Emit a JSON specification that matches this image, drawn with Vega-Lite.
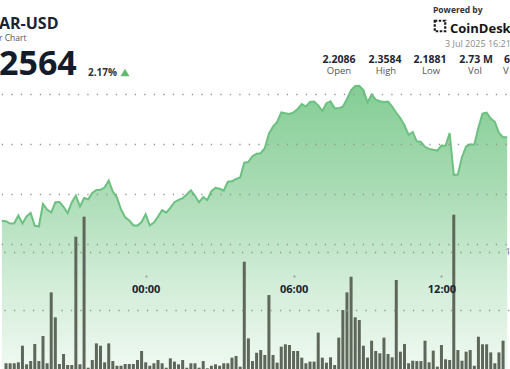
{
  "$schema": "https://vega.github.io/schema/vega-lite/v6.json",
  "width": 510,
  "height": 369,
  "padding": 0,
  "autosize": {"type": "none"},
  "background": "#ffffff",
  "config": {"view": {"stroke": null}, "font": "Open Sans", "text": {"font": "Open Sans"}},
  "datasets": {
    "d": [
      {"t": "2025-07-02T18:10:00Z", "p": 2.2230},
      {"t": "2025-07-02T18:20:00Z", "p": 2.2228, "v": 0.049},
      {"t": "2025-07-02T18:30:00Z", "p": 2.2205, "v": 0.049},
      {"t": "2025-07-02T18:40:00Z", "p": 2.2207, "v": 0.049},
      {"t": "2025-07-02T18:50:00Z", "p": 2.2285, "v": 0.057},
      {"t": "2025-07-02T19:00:00Z", "p": 2.2205, "v": 0.199},
      {"t": "2025-07-02T19:10:00Z", "p": 2.2275, "v": 0.040},
      {"t": "2025-07-02T19:20:00Z", "p": 2.2310, "v": 0.068},
      {"t": "2025-07-02T19:30:00Z", "p": 2.2182, "v": 0.214},
      {"t": "2025-07-02T19:40:00Z", "p": 2.2175, "v": 0.068},
      {"t": "2025-07-02T19:50:00Z", "p": 2.2400, "v": 0.282},
      {"t": "2025-07-02T20:00:00Z", "p": 2.2345, "v": 0.049},
      {"t": "2025-07-02T20:10:00Z", "p": 2.2315, "v": 0.655},
      {"t": "2025-07-02T20:20:00Z", "p": 2.2417, "v": 0.442},
      {"t": "2025-07-02T20:30:00Z", "p": 2.2420, "v": 0.043},
      {"t": "2025-07-02T20:40:00Z", "p": 2.2372, "v": 0.128},
      {"t": "2025-07-02T20:50:00Z", "p": 2.2310, "v": 0.034},
      {"t": "2025-07-02T21:00:00Z", "p": 2.2415, "v": 0.034},
      {"t": "2025-07-02T21:10:00Z", "p": 2.2485, "v": 1.131},
      {"t": "2025-07-02T21:20:00Z", "p": 2.2375, "v": 0.040},
      {"t": "2025-07-02T21:30:00Z", "p": 2.2460, "v": 1.302},
      {"t": "2025-07-02T21:40:00Z", "p": 2.2447, "v": 0.011},
      {"t": "2025-07-02T21:50:00Z", "p": 2.2510, "v": 0.077},
      {"t": "2025-07-02T22:00:00Z", "p": 2.2540, "v": 0.219},
      {"t": "2025-07-02T22:10:00Z", "p": 2.2542, "v": 0.199},
      {"t": "2025-07-02T22:20:00Z", "p": 2.2565, "v": 0.057},
      {"t": "2025-07-02T22:30:00Z", "p": 2.2635, "v": 0.219},
      {"t": "2025-07-02T22:40:00Z", "p": 2.2525, "v": 0.068},
      {"t": "2025-07-02T22:50:00Z", "p": 2.2465, "v": 0.028},
      {"t": "2025-07-02T23:00:00Z", "p": 2.2345, "v": 0.028},
      {"t": "2025-07-02T23:10:00Z", "p": 2.2267, "v": 0.043},
      {"t": "2025-07-02T23:20:00Z", "p": 2.2235, "v": 0.043},
      {"t": "2025-07-02T23:30:00Z", "p": 2.2188, "v": 0.043},
      {"t": "2025-07-02T23:40:00Z", "p": 2.2184, "v": 0.077},
      {"t": "2025-07-02T23:50:00Z", "p": 2.2220, "v": 0.154},
      {"t": "2025-07-03T00:00:00Z", "p": 2.2297, "v": 0.057},
      {"t": "2025-07-03T00:10:00Z", "p": 2.2185, "v": 0.028},
      {"t": "2025-07-03T00:20:00Z", "p": 2.2215, "v": 0.049},
      {"t": "2025-07-03T00:30:00Z", "p": 2.2274, "v": 0.077},
      {"t": "2025-07-03T00:40:00Z", "p": 2.2339, "v": 0.049},
      {"t": "2025-07-03T00:50:00Z", "p": 2.2314, "v": 0.011},
      {"t": "2025-07-03T01:00:00Z", "p": 2.2361, "v": 0.091},
      {"t": "2025-07-03T01:10:00Z", "p": 2.2418, "v": 0.063},
      {"t": "2025-07-03T01:20:00Z", "p": 2.2441, "v": 0.040},
      {"t": "2025-07-03T01:30:00Z", "p": 2.2458, "v": 0.077},
      {"t": "2025-07-03T01:40:00Z", "p": 2.2495, "v": 0.011},
      {"t": "2025-07-03T01:50:00Z", "p": 2.2537, "v": 0.049},
      {"t": "2025-07-03T02:00:00Z", "p": 2.2482, "v": 0.049},
      {"t": "2025-07-03T02:10:00Z", "p": 2.2417, "v": 0.011},
      {"t": "2025-07-03T02:20:00Z", "p": 2.2468, "v": 0.068},
      {"t": "2025-07-03T02:30:00Z", "p": 2.2440, "v": 0.006},
      {"t": "2025-07-03T02:40:00Z", "p": 2.2528, "v": 0.028},
      {"t": "2025-07-03T02:50:00Z", "p": 2.2562, "v": 0.040},
      {"t": "2025-07-03T03:00:00Z", "p": 2.2552, "v": 0.028},
      {"t": "2025-07-03T03:10:00Z", "p": 2.2533, "v": 0.049},
      {"t": "2025-07-03T03:20:00Z", "p": 2.2623, "v": 0.049},
      {"t": "2025-07-03T03:30:00Z", "p": 2.2627, "v": 0.097},
      {"t": "2025-07-03T03:40:00Z", "p": 2.2651, "v": 0.111},
      {"t": "2025-07-03T03:50:00Z", "p": 2.2665, "v": 0.020},
      {"t": "2025-07-03T04:00:00Z", "p": 2.2813, "v": 0.917},
      {"t": "2025-07-03T04:10:00Z", "p": 2.2821, "v": 0.262},
      {"t": "2025-07-03T04:20:00Z", "p": 2.2878, "v": 0.068},
      {"t": "2025-07-03T04:30:00Z", "p": 2.2902, "v": 0.139},
      {"t": "2025-07-03T04:40:00Z", "p": 2.2908, "v": 0.162},
      {"t": "2025-07-03T04:50:00Z", "p": 2.2960, "v": 0.120},
      {"t": "2025-07-03T05:00:00Z", "p": 2.3103, "v": 0.632},
      {"t": "2025-07-03T05:10:00Z", "p": 2.3174, "v": 0.120},
      {"t": "2025-07-03T05:20:00Z", "p": 2.3220, "v": 0.054},
      {"t": "2025-07-03T05:30:00Z", "p": 2.3317, "v": 0.191},
      {"t": "2025-07-03T05:40:00Z", "p": 2.3307, "v": 0.211},
      {"t": "2025-07-03T05:50:00Z", "p": 2.3300, "v": 0.205},
      {"t": "2025-07-03T06:00:00Z", "p": 2.3317, "v": 0.154},
      {"t": "2025-07-03T06:10:00Z", "p": 2.3350, "v": 0.154},
      {"t": "2025-07-03T06:20:00Z", "p": 2.3400, "v": 0.097},
      {"t": "2025-07-03T06:30:00Z", "p": 2.3375, "v": 0.049},
      {"t": "2025-07-03T06:40:00Z", "p": 2.3420, "v": 0.063},
      {"t": "2025-07-03T06:50:00Z", "p": 2.3425, "v": 0.063},
      {"t": "2025-07-03T07:00:00Z", "p": 2.3387, "v": 0.311},
      {"t": "2025-07-03T07:10:00Z", "p": 2.3330, "v": 0.097},
      {"t": "2025-07-03T07:20:00Z", "p": 2.3408, "v": 0.054},
      {"t": "2025-07-03T07:30:00Z", "p": 2.3427, "v": 0.100},
      {"t": "2025-07-03T07:40:00Z", "p": 2.3357, "v": 0.034},
      {"t": "2025-07-03T07:50:00Z", "p": 2.3358, "v": 0.268},
      {"t": "2025-07-03T08:00:00Z", "p": 2.3373, "v": 0.504},
      {"t": "2025-07-03T08:10:00Z", "p": 2.3450, "v": 0.655},
      {"t": "2025-07-03T08:20:00Z", "p": 2.3536, "v": 0.789},
      {"t": "2025-07-03T08:30:00Z", "p": 2.3580, "v": 0.442},
      {"t": "2025-07-03T08:40:00Z", "p": 2.3582, "v": 0.419},
      {"t": "2025-07-03T08:50:00Z", "p": 2.3540, "v": 0.199},
      {"t": "2025-07-03T09:00:00Z", "p": 2.3416, "v": 0.097},
      {"t": "2025-07-03T09:10:00Z", "p": 2.3495, "v": 0.242},
      {"t": "2025-07-03T09:20:00Z", "p": 2.3443, "v": 0.154},
      {"t": "2025-07-03T09:30:00Z", "p": 2.3428, "v": 0.134},
      {"t": "2025-07-03T09:40:00Z", "p": 2.3420, "v": 0.268},
      {"t": "2025-07-03T09:50:00Z", "p": 2.3425, "v": 0.128},
      {"t": "2025-07-03T10:00:00Z", "p": 2.3375, "v": 0.100},
      {"t": "2025-07-03T10:10:00Z", "p": 2.3312, "v": 0.761},
      {"t": "2025-07-03T10:20:00Z", "p": 2.3257, "v": 0.148},
      {"t": "2025-07-03T10:30:00Z", "p": 2.3187, "v": 0.214},
      {"t": "2025-07-03T10:40:00Z", "p": 2.3092, "v": 0.049},
      {"t": "2025-07-03T10:50:00Z", "p": 2.3120, "v": 0.071},
      {"t": "2025-07-03T11:00:00Z", "p": 2.3027, "v": 0.068},
      {"t": "2025-07-03T11:10:00Z", "p": 2.3020, "v": 0.068},
      {"t": "2025-07-03T11:20:00Z", "p": 2.2970, "v": 0.242},
      {"t": "2025-07-03T11:30:00Z", "p": 2.2951, "v": 0.057},
      {"t": "2025-07-03T11:40:00Z", "p": 2.2942, "v": 0.157},
      {"t": "2025-07-03T11:50:00Z", "p": 2.2934, "v": 0.020},
      {"t": "2025-07-03T12:00:00Z", "p": 2.2985, "v": 0.205},
      {"t": "2025-07-03T12:10:00Z", "p": 2.2982, "v": 0.083},
      {"t": "2025-07-03T12:20:00Z", "p": 2.3110, "v": 0.077},
      {"t": "2025-07-03T12:30:00Z", "p": 2.2690, "v": 1.319},
      {"t": "2025-07-03T12:40:00Z", "p": 2.2695, "v": 0.162},
      {"t": "2025-07-03T12:50:00Z", "p": 2.2870, "v": 0.071},
      {"t": "2025-07-03T13:00:00Z", "p": 2.2975, "v": 0.148},
      {"t": "2025-07-03T13:10:00Z", "p": 2.2997, "v": 0.162},
      {"t": "2025-07-03T13:20:00Z", "p": 2.2993, "v": 0.028},
      {"t": "2025-07-03T13:30:00Z", "p": 2.3165, "v": 0.276},
      {"t": "2025-07-03T13:40:00Z", "p": 2.3303, "v": 0.211},
      {"t": "2025-07-03T13:50:00Z", "p": 2.3313, "v": 0.211},
      {"t": "2025-07-03T14:00:00Z", "p": 2.3255, "v": 0.142},
      {"t": "2025-07-03T14:10:00Z", "p": 2.3222, "v": 0.049},
      {"t": "2025-07-03T14:20:00Z", "p": 2.3110, "v": 0.142},
      {"t": "2025-07-03T14:30:00Z", "p": 2.3067, "v": 0.242},
      {"t": "2025-07-03T14:40:00Z", "p": 2.3067}
    ]
  },
  "layer": [
    {
      "data": {"name": "d"},
      "encoding": {
        "x": {
          "field": "t",
          "type": "temporal",
          "scale": {
            "type": "utc",
            "domain": [
              {"year": 2025, "month": 7, "date": 2, "hours": 18, "minutes": 17, "seconds": 30, "utc": true},
              {"year": 2025, "month": 7, "date": 3, "hours": 14, "minutes": 34, "seconds": 42, "utc": true}
            ]
          },
          "axis": {
            "orient": "bottom",
            "offset": -94,
            "domain": false,
            "grid": false,
            "title": null,
            "tickSize": 2,
            "tickWidth": 2,
            "tickColor": "#a0a0a0",
            "labelPadding": 6,
            "labelFont": "Open Sans",
            "labelFontSize": 11,
            "labelFontWeight": "bold",
            "labelColor": "#1c2333",
            "format": "%H:%M",
            "zindex": 1,
            "values": [
              {"year": 2025, "month": 7, "date": 3, "hours": 0, "utc": true},
              {"year": 2025, "month": 7, "date": 3, "hours": 6, "utc": true},
              {"year": 2025, "month": 7, "date": 3, "hours": 12, "utc": true}
            ]
          }
        }
      },
      "layer": [
        {
          "mark": {
            "type": "area",
            "clip": true,
            "interpolate": "linear",
            "color": {
              "gradient": "linear",
              "x1": 0, "y1": 0, "x2": 0, "y2": 1,
              "stops": [
                {"offset": 0, "color": "#84cd95"},
                {"offset": 0.35, "color": "#a8dbb3"},
                {"offset": 0.7, "color": "#d2edd8"},
                {"offset": 1, "color": "#eff9f1"}
              ]
            }
          },
          "encoding": {
            "y": {
              "field": "p",
              "type": "quantitative",
              "scale": {"domain": [2.075, 2.444], "zero": false, "nice": false},
              "axis": {
                "orient": "left",
                "values": [2.2, 2.25, 2.3, 2.35],
                "grid": true,
                "gridColor": "#959595",
                "gridWidth": 1.5,
                "gridDash": [1.3, 8.2],
                "gridDashOffset": 8.2,
                "labels": false,
                "ticks": false,
                "domain": false,
                "title": null,
                "zindex": 1
              }
            },
            "y2": {"datum": 2.075}
          }
        },
        {
          "mark": {"type": "bar", "width": 3, "color": "#5e6759"},
          "encoding": {
            "y": {
              "field": "v",
              "type": "quantitative",
              "scale": {"domain": [0, 3.1538], "nice": false},
              "axis": {
                "orient": "right",
                "values": [0.5, 1],
                "grid": true,
                "gridColor": "#959595",
                "gridWidth": 1.5,
                "gridDash": [1.3, 8.2],
                "gridDashOffset": 8.2,
                "ticks": false,
                "tickSize": 0,
                "domain": false,
                "title": null,
                "labelExpr": "datum.value == 1 ? '1M' : ''",
                "labelPadding": -5,
                "labelAlign": "left",
                "labelFontSize": 9,
                "labelColor": "#777777",
                "zindex": 1
              }
            }
          }
        },
        {
          "mark": {"type": "line", "clip": true, "color": "#6cc080", "strokeWidth": 2, "interpolate": "linear"},
          "encoding": {
            "y": {
              "field": "p",
              "type": "quantitative",
              "scale": {"domain": [2.075, 2.444], "zero": false, "nice": false},
              "axis": null
            }
          }
        }
      ],
      "resolve": {"scale": {"y": "independent"}}
    },
    {"data": {"values": [{}]}, "mark": {"type": "text", "x": -1, "y": 29, "text": "AR-USD", "align": "left", "baseline": "alphabetic", "fontSize": 16, "fontWeight": "bold", "color": "#1b2232"}, "encoding": {}},
    {"data": {"values": [{}]}, "mark": {"type": "text", "x": -1, "y": 40.5, "text": "r Chart", "align": "left", "baseline": "alphabetic", "fontSize": 8.5, "color": "#555555"}, "encoding": {}},
    {"data": {"values": [{}]}, "mark": {"type": "text", "x": -1, "y": 75, "text": "2564", "align": "left", "baseline": "alphabetic", "fontSize": 34, "fontWeight": "bold", "color": "#141b2b"}, "encoding": {}},
    {"data": {"values": [{}]}, "mark": {"type": "text", "x": 88, "y": 76, "text": "2.17%", "align": "left", "baseline": "alphabetic", "fontSize": 10, "fontWeight": "bold", "color": "#333333"}, "encoding": {}},
    {"data": {"values": [{}]}, "mark": {"type": "point", "shape": "triangle-up", "x": 125, "y": 72.5, "size": 80, "filled": true, "color": "#5dbb6e", "opacity": 1}, "encoding": {}},
    {"data": {"values": [{}]}, "mark": {"type": "text", "x": 433, "y": 13, "text": "Powered by", "align": "left", "baseline": "alphabetic", "fontSize": 8.5, "fontWeight": "bold", "color": "#333333"}, "encoding": {}},
    {"data": {"values": [{}]}, "mark": {"type": "point", "shape": "square", "x": 440, "y": 26, "size": 110, "filled": false, "stroke": "#1a1a1a", "strokeWidth": 2.2, "strokeDash": [2.5, 1.5], "opacity": 1}, "encoding": {}},
    {"data": {"values": [{}]}, "mark": {"type": "text", "x": 450, "y": 33, "text": "CoinDesk", "align": "left", "baseline": "alphabetic", "fontSize": 13, "fontWeight": "bold", "color": "#151515"}, "encoding": {}},
    {"data": {"values": [{}]}, "mark": {"type": "text", "x": 445, "y": 47, "text": "3 Jul 2025 16:21", "align": "left", "baseline": "alphabetic", "fontSize": 9, "color": "#8a8a8a"}, "encoding": {}},
    {"data": {"values": [{}]}, "mark": {"type": "text", "x": 339, "y": 63, "text": "2.2086", "align": "center", "baseline": "alphabetic", "fontSize": 10.5, "fontWeight": "bold", "color": "#1e2535"}, "encoding": {}},
    {"data": {"values": [{}]}, "mark": {"type": "text", "x": 385, "y": 63, "text": "2.3584", "align": "center", "baseline": "alphabetic", "fontSize": 10.5, "fontWeight": "bold", "color": "#1e2535"}, "encoding": {}},
    {"data": {"values": [{}]}, "mark": {"type": "text", "x": 430, "y": 63, "text": "2.1881", "align": "center", "baseline": "alphabetic", "fontSize": 10.5, "fontWeight": "bold", "color": "#1e2535"}, "encoding": {}},
    {"data": {"values": [{}]}, "mark": {"type": "text", "x": 476, "y": 63, "text": "2.73 M", "align": "center", "baseline": "alphabetic", "fontSize": 10.5, "fontWeight": "bold", "color": "#1e2535"}, "encoding": {}},
    {"data": {"values": [{}]}, "mark": {"type": "text", "x": 504, "y": 63, "text": "6", "align": "left", "baseline": "alphabetic", "fontSize": 10.5, "fontWeight": "bold", "color": "#1e2535"}, "encoding": {}},
    {"data": {"values": [{}]}, "mark": {"type": "text", "x": 339, "y": 74, "text": "Open", "align": "center", "baseline": "alphabetic", "fontSize": 9.5, "color": "#555555"}, "encoding": {}},
    {"data": {"values": [{}]}, "mark": {"type": "text", "x": 386, "y": 74, "text": "High", "align": "center", "baseline": "alphabetic", "fontSize": 9.5, "color": "#555555"}, "encoding": {}},
    {"data": {"values": [{}]}, "mark": {"type": "text", "x": 431, "y": 74, "text": "Low", "align": "center", "baseline": "alphabetic", "fontSize": 9.5, "color": "#555555"}, "encoding": {}},
    {"data": {"values": [{}]}, "mark": {"type": "text", "x": 475, "y": 74, "text": "Vol", "align": "center", "baseline": "alphabetic", "fontSize": 9.5, "color": "#555555"}, "encoding": {}},
    {"data": {"values": [{}]}, "mark": {"type": "text", "x": 503, "y": 74, "text": "V", "align": "left", "baseline": "alphabetic", "fontSize": 9.5, "color": "#555555"}, "encoding": {}}
  ]
}
